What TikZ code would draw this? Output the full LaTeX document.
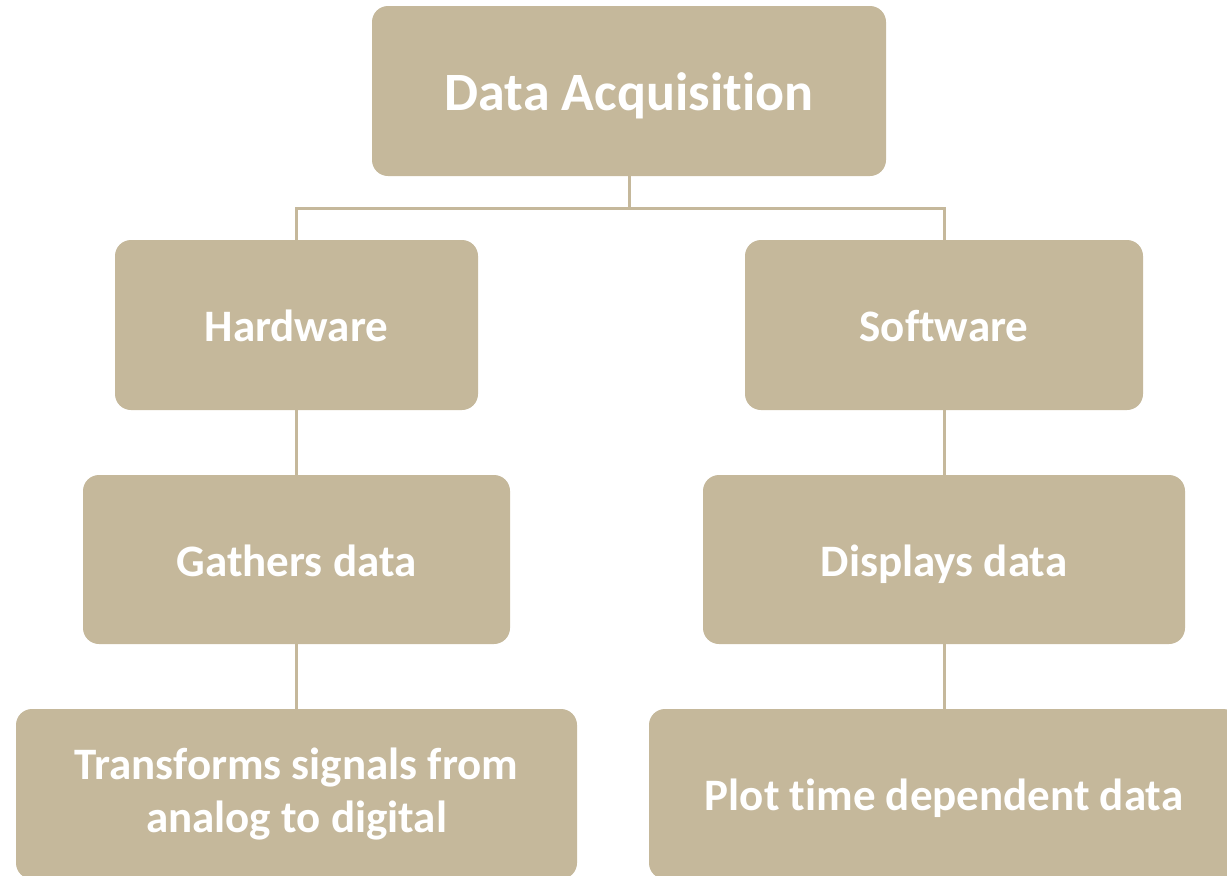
\documentclass[tikz,border=0pt]{standalone}
\usepackage{fontspec}
\setmainfont{Carlito}[Ligatures=NoCommon]
\usepackage{tikz}
\usetikzlibrary{shapes,positioning}
\definecolor{sand}{RGB}{197,184,155}

\begin{document}
\begin{tikzpicture}[x=1pt,y=-1pt,
		box/.style={fill=sand,rounded corners=16pt,text=white,align=center,inner sep=0pt,font=\bfseries\fontsize{45}{53}\selectfont},
		oneline/.style={text height=42pt,text depth=9pt},
		link/.style={draw=sand,line width=3pt}]
			\useasboundingbox (0,0) rectangle (1227,876);
			\node[box,minimum width=514pt,minimum height=170pt,font=\bfseries\fontsize{54}{64}\selectfont,text height=50pt,text depth=11pt] (daq) at (629,91) {Data Acquisition};
			\node[box,oneline,minimum width=363pt,minimum height=170pt] (hw) at (296.5,325) {Hardware};
			\node[box,oneline,minimum width=398pt,minimum height=170pt] (sw) at (944,325) {Software};
			\node[box,oneline,minimum width=427pt,minimum height=169pt] (gather) at (296.5,559.5) {Gathers data};
			\node[box,oneline,minimum width=482pt,minimum height=169pt] (display) at (944,559.5) {Displays data};
			\node[box,minimum width=561pt,minimum height=170pt] (adc) at (296.5,794) {Transforms signals from\\analog to digital};
			\node[box,oneline,minimum width=590pt,minimum height=170pt] (plot) at (944,794) {Plot time dependent data};
			\coordinate (split) at (629,208);
			\draw[link] (daq.south) -- (split);
			\draw[link] (hw.north) |- (split) -| (sw.north);
			\draw[link] (hw.south) -- (gather.north);
			\draw[link] (gather.south) -- (adc.north);
			\draw[link] (sw.south) -- (display.north);
			\draw[link] (display.south) -- (plot.north);
		\end{tikzpicture}
\end{document}
